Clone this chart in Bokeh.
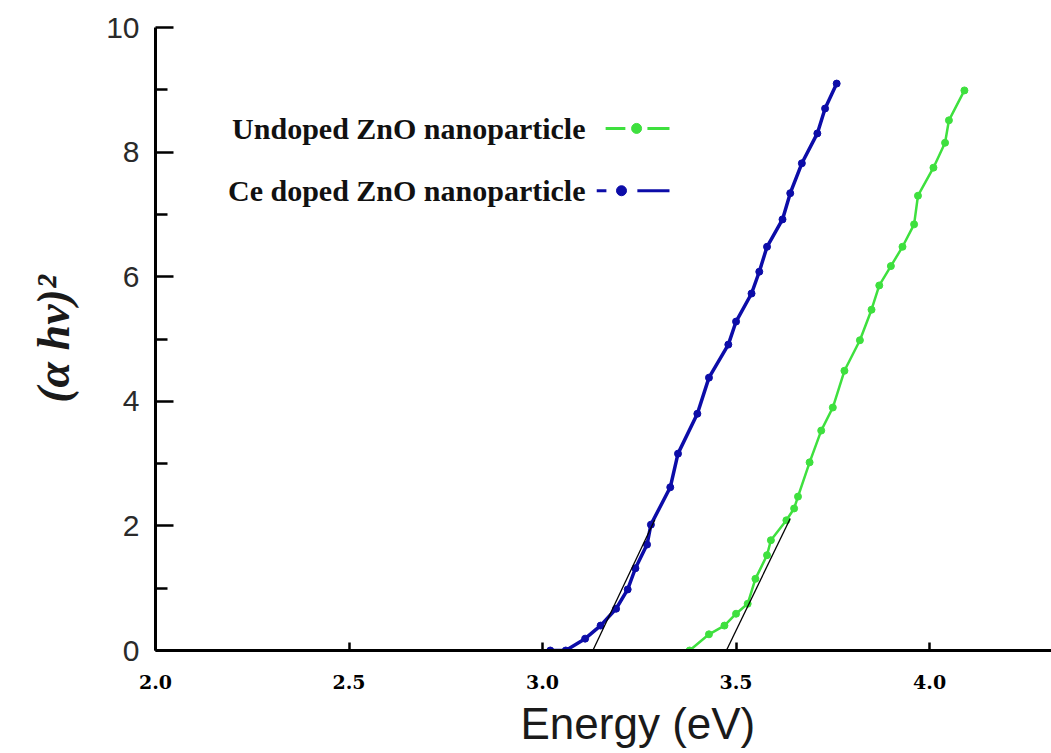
from bokeh.plotting import figure
from bokeh.models import Label, Range1d, FixedTicker, ColumnDataSource, Title, NumeralTickFormatter
from bokeh.embed import file_html
from bokeh.resources import INLINE

# Tauc plot data: photon energy (eV) vs (alpha*h*nu)^2
ce_energy = [3.02, 3.06, 3.11, 3.15, 3.19, 3.22, 3.24, 3.27, 3.28, 3.33, 3.35,
             3.40, 3.43, 3.48, 3.50, 3.54, 3.56, 3.58, 3.62, 3.64, 3.67, 3.71,
             3.73, 3.76]
ce_tauc = [0.0, 0.0, 0.19, 0.40, 0.67, 0.98, 1.32, 1.70, 2.02, 2.62, 3.16,
           3.80, 4.38, 4.91, 5.28, 5.73, 6.08, 6.48, 6.92, 7.34, 7.82, 8.30,
           8.70, 9.10]

undoped_energy = [3.38, 3.43, 3.47, 3.50, 3.53, 3.55, 3.58, 3.59, 3.63, 3.65,
                  3.66, 3.69, 3.72, 3.75, 3.78, 3.82, 3.85, 3.87, 3.90, 3.93,
                  3.96, 3.97, 4.01, 4.04, 4.05, 4.09]
undoped_tauc = [0.0, 0.26, 0.40, 0.59, 0.75, 1.15, 1.53, 1.77, 2.09, 2.28,
                2.47, 3.02, 3.53, 3.90, 4.49, 4.98, 5.47, 5.86, 6.17, 6.48,
                6.84, 7.30, 7.75, 8.15, 8.51, 8.99]

# linear extrapolations to the energy axis (band gap estimates)
ce_fit_x = [3.13, 3.29]
ce_fit_y = [0.0, 2.10]
undoped_fit_x = [3.475, 3.64]
undoped_fit_y = [0.0, 2.12]

x_ticks = [2.0, 2.5, 3.0, 3.5, 4.0]
y_ticks = [0, 2, 4, 6, 8, 10]
y_minor_ticks = [1, 3, 5, 7, 9]

series_names = ["Undoped ZnO nanoparticle", "Ce doped ZnO nanoparticle"]

BLUE = "#0c0ca8"
GREEN = "#3ee03e"

p = figure(width=1051, height=753, output_backend="svg", toolbar_location=None,
           x_range=Range1d(2.0, 4.315), y_range=Range1d(0, 10),
           min_border_left=155, min_border_right=0, min_border_top=27,
           min_border_bottom=103)
p.outline_line_color = None
p.xgrid.visible = False
p.ygrid.visible = False
p.background_fill_color = "white"

# axes
for ax in (p.xaxis[0], p.yaxis[0]):
    ax.axis_line_width = 3
    ax.axis_line_color = "black"
    ax.major_tick_line_width = 2.5
    ax.major_tick_line_color = "black"
    ax.minor_tick_line_width = 2.5
    ax.minor_tick_line_color = "black"
    ax.major_tick_out = 0
    ax.minor_tick_out = 0

p.xaxis.ticker = FixedTicker(ticks=x_ticks)
p.xaxis.formatter = NumeralTickFormatter(format="0.0")
p.xaxis.major_tick_in = 8
p.xaxis.minor_tick_in = 0
p.xaxis.major_label_text_font = "DejaVu Serif"
p.xaxis.major_label_text_font_style = "bold"
p.xaxis.major_label_text_font_size = "19px"
p.xaxis.major_label_text_color = "black"
p.xaxis.major_label_standoff = 24

p.yaxis.ticker = FixedTicker(ticks=y_ticks, minor_ticks=y_minor_ticks)
p.yaxis.major_tick_in = 18
p.yaxis.minor_tick_in = 12
p.yaxis.major_label_text_font = "Liberation Sans"
p.yaxis.major_label_text_font_size = "30px"
p.yaxis.major_label_text_color = "#2a2a2a"
p.yaxis.major_label_standoff = 16

p.yaxis.axis_label = "(α hv)²"
p.yaxis.axis_label_text_font = "Liberation Serif"
p.yaxis.axis_label_text_font_style = "bold italic"
p.yaxis.axis_label_text_font_size = "46px"
p.yaxis.axis_label_text_color = "#1a1a1a"
p.yaxis.axis_label_standoff = 24

# energy axis title
p.add_layout(Title(text="Energy (eV)", align="left", offset=365,
                   text_font="Liberation Sans", text_font_size="44px",
                   text_font_style="normal", text_color="#1a1a1a",
                   text_line_height=0.8, standoff=11), "below")

# curves
ce_src = ColumnDataSource(dict(x=ce_energy, y=ce_tauc))
un_src = ColumnDataSource(dict(x=undoped_energy, y=undoped_tauc))

p.line("x", "y", source=un_src, line_color=GREEN, line_width=2.5)
p.scatter("x", "y", source=un_src, size=7, marker="circle",
          fill_color=GREEN, line_color=GREEN)
p.line("x", "y", source=ce_src, line_color=BLUE, line_width=3.5)
p.scatter("x", "y", source=ce_src, size=7, marker="circle",
          fill_color=BLUE, line_color=BLUE)

p.line(ce_fit_x, ce_fit_y, line_color="black", line_width=1.3)
p.line(undoped_fit_x, undoped_fit_y, line_color="black", line_width=1.3)

# legend (text on the left, sample on the right)
for name, ly in zip(series_names, [8.38, 7.38]):
    p.add_layout(Label(x=3.111, y=ly, text=name, text_font="Liberation Serif",
                       text_font_style="bold", text_font_size="30px",
                       text_align="right", text_baseline="middle",
                       text_color="#111111"))

p.segment(x0=[3.163, 3.271], y0=[8.38, 8.38], x1=[3.214, 3.328], y1=[8.38, 8.38],
          line_color=GREEN, line_width=3)
p.scatter(x=[3.243], y=[8.38], size=10, fill_color=GREEN, line_color=GREEN)
p.segment(x0=[3.140, 3.245], y0=[7.38, 7.38], x1=[3.165, 3.328], y1=[7.38, 7.38],
          line_color=BLUE, line_width=3)
p.scatter(x=[3.204], y=[7.38], size=10, fill_color=BLUE, line_color=BLUE)

open("out.html", "w").write(file_html(p, INLINE))
